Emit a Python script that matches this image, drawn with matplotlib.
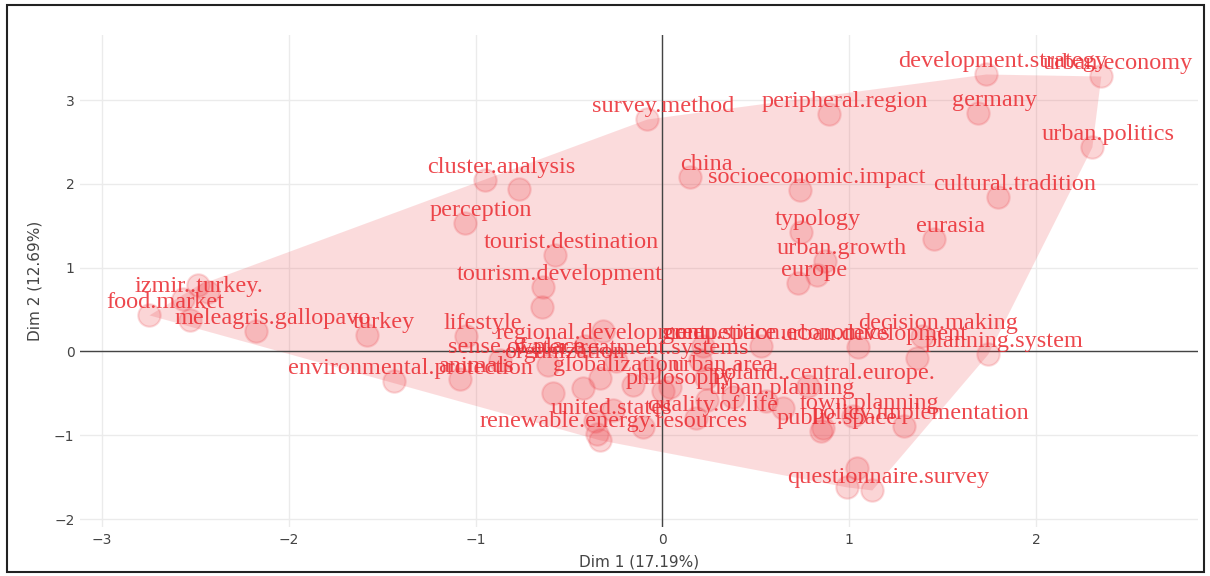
import numpy as np
import matplotlib
matplotlib.use('Agg')
import matplotlib.pyplot as plt
from matplotlib.patches import Polygon, Rectangle

# keyword coordinates on the first two dimensions
labels = ['food.market', 'izmir..turkey.', 'meleagris.gallopavo', 'turkey',
          'environmental.protection', 'cluster.analysis', 'perception',
          'tourist.destination', 'tourism.development', 'survey.method', 'china',
          'socioeconomic.impact', 'peripheral.region', 'development.strategy',
          'urban.economy', 'germany', 'urban.politics', 'cultural.tradition',
          'typology', 'eurasia', 'urban.growth', 'europe', 'lifestyle',
          'regional.development', 'sense.of.place', 'organization',
          'water.treatment.systems', 'animals', 'globalization', 'urban.area',
          'philosophy', 'poland..central.europe.', 'urban.planning',
          'quality.of.life', 'town.planning', 'public.space',
          'policy.implementation', 'united.states', 'renewable.energy.resources',
          'questionnaire.survey', 'decision.making', 'urban.development',
          'planning.system', 'green.space', 'competition.economics']
dim1 = [-2.746, -2.569, -2.173, -1.579, -1.435, -0.947, -1.055, -0.573, -0.637,
        -0.080, 0.150, 0.739, 0.894, 1.734, 2.350, 1.692, 2.302, 1.799, 0.744,
        1.456, 0.873, 0.728, -1.049, -0.412, -0.867, -0.610, -0.246, -1.081,
        -0.332, 0.236, 0.005, 0.782, 0.557, 0.182, 1.022, 0.851, 1.295, -0.359,
        -0.348, 1.124, 1.392, 1.049, 1.745, 0.219, 0.530]
dim2 = [0.430, 0.621, 0.239, 0.191, -0.358, 2.041, 1.527, 1.146, 0.764, 2.768,
        2.076, 1.921, 2.828, 3.305, 3.281, 2.840, 2.434, 1.838, 1.420, 1.336,
        1.074, 0.811, 0.179, 0.060, -0.107, -0.167, -0.119, -0.334, -0.322,
        -0.322, -0.477, -0.418, -0.597, -0.800, -0.776, -0.955, -0.895, -0.835,
        -0.990, -1.659, 0.179, 0.048, -0.036, 0.060, 0.060]

# points whose labels are hidden under other labels
hidden_dim1 = [-2.484, -2.430, -2.527, -0.766, -0.642, -0.316, 0.830, 1.365,
               1.044, 0.990, -0.583, -0.423, -0.155, -0.064, 0.043, 0.241,
               0.380, 0.648, -0.262, -0.102, -0.332, 0.862, 0.203]
hidden_dim2 = [0.788, 0.704, 0.370, 1.933, 0.525, 0.239, 0.907, -0.084,
               -1.396, -1.623, -0.501, -0.442, -0.406, -0.203, -0.430, -0.585,
               -0.549, -0.680, -0.704, -0.907, -1.062, -0.919, -0.107]

xlabel = 'Dim 1 (17.19%)'
ylabel = 'Dim 2 (12.69%)'


def convex_hull(pts):
    pts = sorted(set(pts))
    def cross(o, a, b):
        return (a[0]-o[0])*(b[1]-o[1]) - (a[1]-o[1])*(b[0]-o[0])
    lower, upper = [], []
    for p in pts:
        while len(lower) >= 2 and cross(lower[-2], lower[-1], p) <= 0:
            lower.pop()
        lower.append(p)
    for p in reversed(pts):
        while len(upper) >= 2 and cross(upper[-2], upper[-1], p) <= 0:
            upper.pop()
        upper.append(p)
    return lower[:-1] + upper[:-1]


red = '#eb2f35'
all_x = dim1 + hidden_dim1
all_y = dim2 + hidden_dim2

fig = plt.figure(figsize=(12.1, 5.76), dpi=100)
ax = fig.add_axes([0.0661, 0.0851, 0.9239, 0.8541])

hull = convex_hull(list(zip(all_x, all_y)))
ax.add_patch(Polygon(hull, closed=True, facecolor=red, alpha=0.17,
                     edgecolor='none', zorder=1))

ax.axhline(0, color='#444444', lw=1, zorder=2)
ax.axvline(0, color='#444444', lw=1, zorder=2)

ax.scatter(all_x, all_y, s=260, facecolor=(0.92, 0.18, 0.21, 0.2),
           edgecolor=(0.92, 0.18, 0.21, 0.18), linewidth=1.5, zorder=3)

for lab, x, y in zip(labels, dim1, dim2):
    ax.annotate(lab, (x, y), xytext=(11.5, 9.5), textcoords='offset points',
                ha='center', va='center', fontsize=17.5, color=red, alpha=0.88,
                family='Liberation Serif', zorder=4)

ax.set_xlim(-3.118, 2.867)
ax.set_ylim(-2.095, 3.776)
ax.set_xticks([-3, -2, -1, 0, 1, 2])
ax.set_yticks([-2, -1, 0, 1, 2, 3])
ax.grid(color='#ebebeb', lw=1, zorder=0)
ax.set_axisbelow(True)
for s in ax.spines.values():
    s.set_visible(False)
ax.tick_params(length=0, labelsize=10, labelcolor='#444444', pad=4)
ax.set_xlabel(xlabel, fontsize=11, color='#444444', labelpad=6)
ax.set_ylabel(ylabel, fontsize=11, color='#444444', labelpad=8)

# outer frame
fig.patches.append(Rectangle((0.006, 0.007), 0.989, 0.985, transform=fig.transFigure,
                             fill=False, edgecolor='#222222', lw=1.5))

fig.savefig('out.png', dpi=100)
